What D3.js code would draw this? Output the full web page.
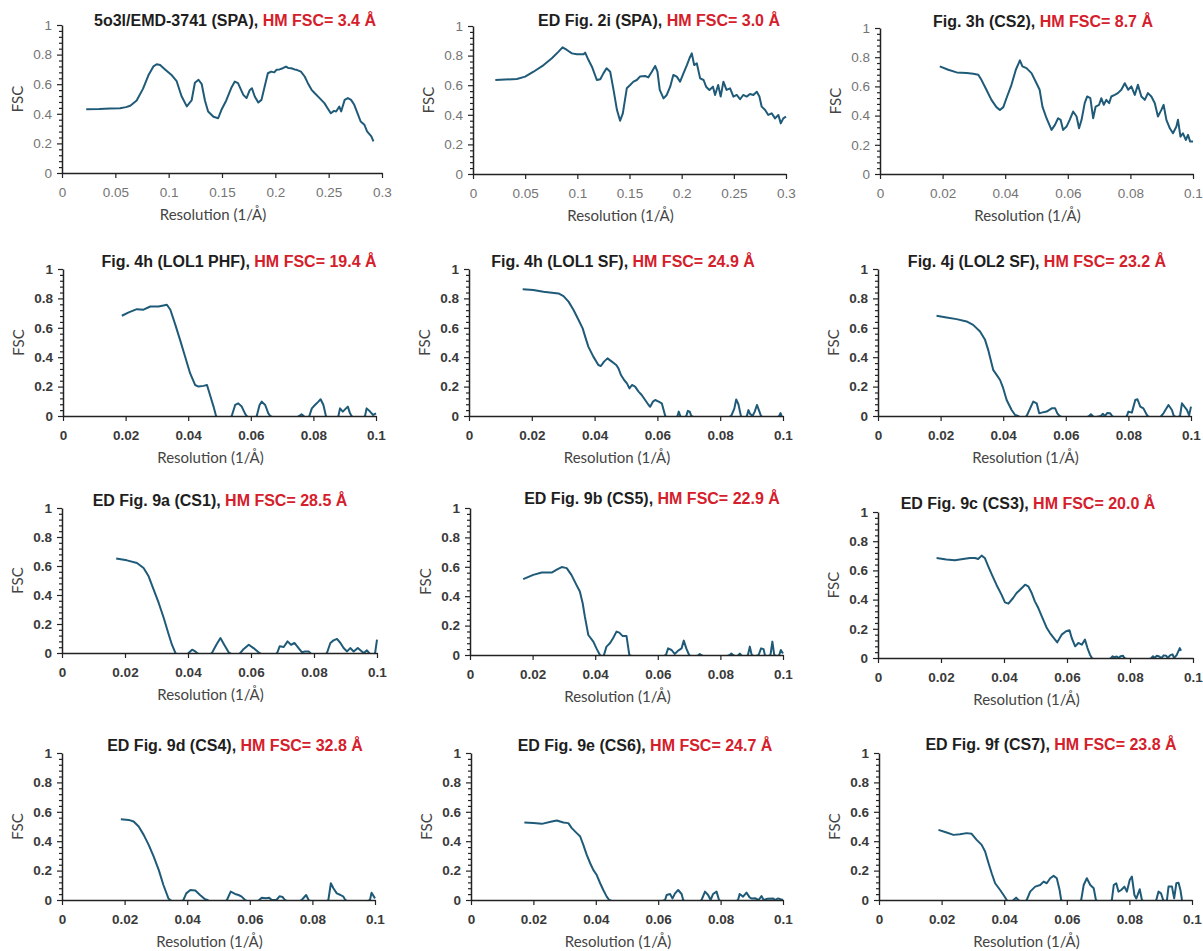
<!DOCTYPE html>
<html><head><meta charset="utf-8">
<script src="https://cdn.jsdelivr.net/npm/d3@7"></script>
<style>body{margin:0;background:#fff}</style>
</head><body>
<svg id="c" width="1203" height="951"></svg>
<script>
const figNames = ["5o3l/EMD-3741 (SPA), ","ED Fig. 2i (SPA), ","Fig. 3h (CS2), ",
  "Fig. 4h (LOL1 PHF), ","Fig. 4h (LOL1 SF), ","Fig. 4j (LOL2 SF), ",
  "ED Fig. 9a (CS1), ","ED Fig. 9b (CS5), ","ED Fig. 9c (CS3), ",
  "ED Fig. 9d (CS4), ","ED Fig. 9e (CS6), ","ED Fig. 9f (CS7), "];
const hmLabels = ["HM FSC= 3.4 Å","HM FSC= 3.0 Å","HM FSC= 8.7 Å",
  "HM FSC= 19.4 Å","HM FSC= 24.9 Å","HM FSC= 23.2 Å",
  "HM FSC= 28.5 Å","HM FSC= 22.9 Å","HM FSC= 20.0 Å",
  "HM FSC= 32.8 Å","HM FSC= 24.7 Å","HM FSC= 23.8 Å"];
const xMaxes = [0.3,0.3,0.1,0.1,0.1,0.1,0.1,0.1,0.1,0.1,0.1,0.1];
const xTicksWide = [0,0.05,0.1,0.15,0.2,0.25,0.3];
const xTicksNarrow = [0,0.02,0.04,0.06,0.08,0.1];
const yTicks = [0,0.2,0.4,0.6,0.8,1];
const xLabel = "Resolution (1/Å)";
const yLabel = "FSC";

const panel1 = [[0.0227,0.431],[0.035,0.432],[0.045,0.435],[0.0545,0.438],[0.060,0.445],[0.064,0.454],[0.070,0.49],[0.076,0.57],[0.081,0.66],[0.0857,0.72],[0.0888,0.735],[0.092,0.73],[0.0966,0.70],[0.103,0.66],[0.1075,0.62],[0.112,0.52],[0.117,0.45],[0.1215,0.49],[0.1246,0.61],[0.128,0.63],[0.131,0.60],[0.134,0.49],[0.137,0.416],[0.142,0.38],[0.1464,0.37],[0.1495,0.427],[0.154,0.49],[0.159,0.58],[0.162,0.618],[0.165,0.607],[0.170,0.528],[0.173,0.506],[0.176,0.56],[0.178,0.573],[0.1807,0.517],[0.184,0.476],[0.187,0.494],[0.190,0.584],[0.193,0.674],[0.196,0.685],[0.199,0.68],[0.201,0.697],[0.204,0.70],[0.207,0.708],[0.210,0.719],[0.212,0.71],[0.215,0.708],[0.218,0.70],[0.220,0.697],[0.224,0.685],[0.2275,0.652],[0.2305,0.607],[0.234,0.562],[0.237,0.539],[0.2415,0.506],[0.246,0.472],[0.249,0.438],[0.252,0.404],[0.255,0.42],[0.257,0.416],[0.260,0.449],[0.2617,0.416],[0.265,0.494],[0.268,0.506],[0.271,0.494],[0.274,0.461],[0.277,0.404],[0.280,0.348],[0.2835,0.326],[0.286,0.281],[0.290,0.247],[0.292,0.213]];
const panel2 = [[0.0214,0.635],[0.042,0.642],[0.050,0.658],[0.058,0.691],[0.0677,0.736],[0.0756,0.782],[0.082,0.827],[0.0858,0.856],[0.09,0.838],[0.0948,0.815],[0.0996,0.809],[0.106,0.809],[0.1075,0.82],[0.1107,0.77],[0.114,0.725],[0.1187,0.635],[0.122,0.64],[0.125,0.68],[0.128,0.714],[0.1315,0.691],[0.1347,0.568],[0.138,0.432],[0.141,0.36],[0.1436,0.41],[0.1474,0.579],[0.1506,0.601],[0.1538,0.624],[0.157,0.635],[0.160,0.658],[0.165,0.662],[0.168,0.653],[0.1714,0.691],[0.1746,0.73],[0.1768,0.691],[0.179,0.568],[0.1826,0.511],[0.1857,0.534],[0.189,0.59],[0.192,0.669],[0.1953,0.658],[0.1985,0.624],[0.2017,0.680],[0.205,0.736],[0.2075,0.782],[0.2097,0.815],[0.212,0.736],[0.2145,0.748],[0.2177,0.646],[0.221,0.635],[0.2234,0.59],[0.2266,0.568],[0.23,0.59],[0.232,0.534],[0.235,0.601],[0.2374,0.523],[0.24,0.624],[0.243,0.568],[0.2464,0.579],[0.2496,0.523],[0.2528,0.534],[0.256,0.505],[0.259,0.534],[0.2623,0.523],[0.2655,0.541],[0.2687,0.534],[0.272,0.556],[0.2745,0.523],[0.2767,0.455],[0.28,0.432],[0.283,0.399],[0.2863,0.41],[0.2895,0.376],[0.2927,0.399],[0.295,0.342],[0.2974,0.376],[0.3,0.387]];
const panel3 = [[0.0191,0.737],[0.0218,0.714],[0.0245,0.696],[0.0277,0.691],[0.0298,0.686],[0.0314,0.68],[0.0324,0.645],[0.034,0.577],[0.0356,0.508],[0.0372,0.458],[0.0383,0.439],[0.0394,0.458],[0.0404,0.519],[0.042,0.611],[0.0434,0.714],[0.0447,0.778],[0.0455,0.737],[0.0468,0.725],[0.0484,0.691],[0.05,0.622],[0.051,0.577],[0.0519,0.462],[0.0532,0.382],[0.0548,0.302],[0.0559,0.336],[0.0569,0.382],[0.0577,0.371],[0.0585,0.302],[0.0596,0.325],[0.0606,0.371],[0.0617,0.428],[0.0628,0.394],[0.0636,0.313],[0.0644,0.371],[0.0654,0.485],[0.0662,0.531],[0.0672,0.519],[0.0681,0.382],[0.0689,0.462],[0.07,0.474],[0.0707,0.519],[0.0715,0.474],[0.0723,0.508],[0.0732,0.485],[0.0739,0.531],[0.075,0.542],[0.076,0.554],[0.0771,0.577],[0.0782,0.622],[0.0793,0.577],[0.0803,0.6],[0.0814,0.542],[0.0824,0.611],[0.0835,0.531],[0.0846,0.508],[0.0856,0.554],[0.0867,0.531],[0.0878,0.485],[0.0888,0.394],[0.0899,0.439],[0.0906,0.474],[0.0915,0.371],[0.0926,0.313],[0.0936,0.279],[0.0947,0.325],[0.0952,0.371],[0.096,0.256],[0.0968,0.279],[0.0977,0.233],[0.0984,0.268],[0.0991,0.222],[0.1,0.222]];
const panel4 = [[0.0188,0.682],[0.021,0.705],[0.0236,0.727],[0.0257,0.723],[0.0279,0.745],[0.0305,0.745],[0.0321,0.752],[0.0332,0.757],[0.0343,0.723],[0.0359,0.62],[0.0374,0.518],[0.039,0.405],[0.0406,0.291],[0.0422,0.211],[0.0433,0.2],[0.0449,0.205],[0.046,0.211],[0.0468,0.155],[0.0481,0.064],[0.0489,0],[0.0515,-0.06],[0.0539,0],[0.055,0.075],[0.056,0.086],[0.0571,0.064],[0.0582,0.014],[0.0587,0],[0.0603,-0.04],[0.0619,0],[0.0628,0.075],[0.0635,0.098],[0.0646,0.075],[0.0656,0.018],[0.0662,0],[0.071,-0.05],[0.0755,0],[0.0762,0.012],[0.0769,0],[0.0778,-0.03],[0.0787,0],[0.0795,0.052],[0.0805,0.075],[0.0816,0.098],[0.0823,0.114],[0.0832,0.075],[0.084,0],[0.086,-0.05],[0.088,0],[0.0885,0.052],[0.0894,0.03],[0.0901,0.045],[0.091,0.064],[0.0917,0.018],[0.0922,0],[0.0945,-0.04],[0.0965,0],[0.097,0.052],[0.0981,0.03],[0.0991,0.007],[0.1,0.018]];
const panel5 = [[0.0171,0.862],[0.0205,0.857],[0.0237,0.846],[0.0264,0.839],[0.0285,0.834],[0.0301,0.816],[0.0317,0.778],[0.0333,0.721],[0.0349,0.653],[0.0362,0.596],[0.037,0.54],[0.038,0.472],[0.0396,0.404],[0.0412,0.347],[0.042,0.34],[0.043,0.37],[0.0441,0.392],[0.0455,0.37],[0.0469,0.347],[0.0476,0.324],[0.0484,0.279],[0.0494,0.245],[0.0503,0.222],[0.0511,0.188],[0.0519,0.211],[0.0529,0.2],[0.054,0.166],[0.055,0.143],[0.0561,0.109],[0.0572,0.075],[0.0577,0.063],[0.0586,0.098],[0.0593,0.109],[0.0604,0.098],[0.0614,0.086],[0.0625,0],[0.0645,-0.04],[0.0664,0],[0.0668,0.03],[0.0673,0],[0.068,-0.02],[0.0692,0],[0.0697,0.035],[0.0703,0.03],[0.0708,0],[0.077,-0.06],[0.0835,0],[0.0845,0.05],[0.0851,0.113],[0.0858,0.08],[0.0866,0],[0.0875,-0.02],[0.0885,0],[0.089,0.04],[0.0895,0.015],[0.0903,0],[0.091,0.03],[0.0917,0.075],[0.0925,0.03],[0.093,0],[0.096,-0.04],[0.0988,0],[0.0992,0.02],[0.0996,0]];
const panel6 = [[0.0187,0.682],[0.0219,0.67],[0.0251,0.659],[0.0283,0.643],[0.0304,0.62],[0.0326,0.575],[0.0342,0.518],[0.0352,0.45],[0.036,0.382],[0.0368,0.314],[0.0379,0.28],[0.039,0.245],[0.04,0.189],[0.0411,0.109],[0.0427,0.041],[0.0438,0.007],[0.0448,0],[0.046,-0.02],[0.0475,0],[0.0486,0.052],[0.0496,0.098],[0.0507,0.086],[0.0515,0.018],[0.0523,0.023],[0.0539,0.03],[0.0555,0.052],[0.0566,0.052],[0.0573,0.018],[0.058,0],[0.063,-0.05],[0.0675,0],[0.068,0.012],[0.0686,0],[0.069,-0.01],[0.0712,0],[0.0718,0.015],[0.0725,0],[0.0732,0.02],[0.0742,0.018],[0.0748,0],[0.0775,-0.04],[0.0795,0],[0.08,0.03],[0.0811,0.023],[0.0822,0.109],[0.0829,0.114],[0.0838,0.064],[0.0848,0.052],[0.0859,0.007],[0.0862,0],[0.0885,-0.04],[0.0905,0],[0.0912,0.018],[0.0928,0.075],[0.0939,0.041],[0.0945,0],[0.0955,-0.01],[0.0965,0],[0.0971,0.086],[0.0987,0.041],[0.0994,0.005],[0.1,0.064]];
const panel7 = [[0.0172,0.651],[0.0206,0.639],[0.0238,0.621],[0.0259,0.586],[0.0275,0.529],[0.0291,0.437],[0.0307,0.345],[0.0323,0.241],[0.0339,0.126],[0.0349,0.057],[0.036,0],[0.038,-0.04],[0.0402,0],[0.0413,0.023],[0.0423,0.011],[0.0429,0],[0.045,-0.04],[0.0476,0],[0.049,0.057],[0.0503,0.103],[0.0515,0.057],[0.0529,0.005],[0.0533,0],[0.055,-0.03],[0.0566,0],[0.0577,0.028],[0.0593,0.057],[0.0608,0.034],[0.0624,0.005],[0.0628,0],[0.0655,-0.05],[0.0683,0],[0.0691,0.046],[0.0704,0.041],[0.0716,0.08],[0.0727,0.057],[0.0738,0.069],[0.0751,0.034],[0.0762,0.005],[0.0772,0.011],[0.0783,0.011],[0.0788,0],[0.081,-0.05],[0.0841,0],[0.0852,0.069],[0.0862,0.087],[0.0873,0.097],[0.0884,0.069],[0.0894,0.034],[0.0905,0.011],[0.0915,0.034],[0.0926,0.011],[0.0939,0.034],[0.0952,0.011],[0.0958,0],[0.0968,0.018],[0.0975,0],[0.0985,-0.02],[0.0994,0],[0.1,0.092]];
const panel8 = [[0.017,0.516],[0.0202,0.545],[0.0229,0.561],[0.0261,0.561],[0.0277,0.58],[0.0293,0.598],[0.0309,0.591],[0.0324,0.545],[0.034,0.477],[0.0351,0.432],[0.036,0.352],[0.0367,0.261],[0.0378,0.136],[0.0394,0.091],[0.0404,0.045],[0.0415,0],[0.0422,-0.01],[0.0428,0],[0.0436,0.057],[0.0447,0.08],[0.0457,0.114],[0.0468,0.159],[0.0477,0.152],[0.0487,0.13],[0.05,0.13],[0.0509,0],[0.057,-0.06],[0.0626,0],[0.0633,0.045],[0.0644,0.034],[0.0654,0.007],[0.0665,0.03],[0.0676,0.045],[0.0683,0.098],[0.0691,0.045],[0.07,0],[0.0715,-0.02],[0.073,0],[0.0734,0.006],[0.0738,0],[0.078,-0.04],[0.083,0],[0.0835,0.01],[0.084,0],[0.085,-0.01],[0.0858,0],[0.0862,0.01],[0.0866,0],[0.0875,-0.02],[0.0888,0],[0.0894,0.057],[0.09,0],[0.091,-0.01],[0.0922,0],[0.093,0.045],[0.0938,0.04],[0.0942,0],[0.095,-0.01],[0.096,0],[0.0966,0.091],[0.0972,0],[0.0982,-0.01],[0.0988,0],[0.0993,0.034],[0.1,0.01]];
const panel9 = [[0.0186,0.685],[0.0217,0.674],[0.0244,0.669],[0.027,0.678],[0.0292,0.685],[0.0308,0.685],[0.0318,0.678],[0.0329,0.701],[0.0339,0.685],[0.035,0.628],[0.0364,0.559],[0.0376,0.502],[0.0392,0.434],[0.0403,0.381],[0.0414,0.372],[0.0429,0.411],[0.044,0.445],[0.0451,0.468],[0.0467,0.502],[0.0477,0.491],[0.0488,0.445],[0.0498,0.388],[0.0509,0.342],[0.052,0.285],[0.0536,0.205],[0.0546,0.171],[0.0562,0.126],[0.0569,0.107],[0.0583,0.16],[0.0597,0.183],[0.0608,0.19],[0.0615,0.137],[0.0626,0.08],[0.0636,0.103],[0.0647,0.091],[0.0657,0.126],[0.0665,0.068],[0.0673,0.023],[0.0679,0],[0.071,-0.05],[0.074,0],[0.0745,0.012],[0.075,0.005],[0.0758,0.01],[0.0765,0],[0.077,0.012],[0.0778,0.015],[0.0782,0],[0.083,-0.05],[0.0868,0],[0.0873,0.012],[0.0878,0],[0.0885,0.015],[0.0893,0.01],[0.09,0],[0.0907,0.018],[0.0915,0.015],[0.092,0],[0.0928,0.02],[0.0935,0.025],[0.094,0],[0.0948,0.02],[0.0958,0.068],[0.0962,0.05]];
const panel10 = [[0.0188,0.55],[0.0213,0.545],[0.0229,0.534],[0.0245,0.5],[0.0261,0.443],[0.0277,0.375],[0.0293,0.295],[0.0309,0.205],[0.0324,0.102],[0.034,0.011],[0.0346,0],[0.0365,-0.03],[0.0388,0],[0.0397,0.045],[0.041,0.068],[0.0426,0.064],[0.0441,0.034],[0.0457,0.005],[0.0465,0],[0.0495,-0.05],[0.0527,0],[0.0539,0.057],[0.0553,0.041],[0.0564,0.034],[0.0574,0.023],[0.0585,0],[0.061,-0.03],[0.063,0],[0.0638,0.015],[0.0652,0.012],[0.0662,0.015],[0.067,0],[0.0685,0],[0.0695,0.025],[0.0705,0.02],[0.0712,0],[0.074,-0.03],[0.0766,0],[0.078,0.034],[0.0788,0],[0.082,-0.04],[0.0851,0],[0.0859,0.114],[0.0867,0.08],[0.0878,0.045],[0.089,0.034],[0.0899,0.023],[0.0905,0],[0.094,-0.04],[0.0984,0],[0.0989,0.05],[0.1,0.011]];
const panel11 = [[0.0171,0.527],[0.02,0.523],[0.0227,0.518],[0.0259,0.534],[0.0275,0.541],[0.0296,0.527],[0.0312,0.523],[0.0323,0.489],[0.0339,0.455],[0.035,0.432],[0.036,0.375],[0.0371,0.307],[0.0382,0.25],[0.0392,0.205],[0.0403,0.17],[0.0414,0.114],[0.0424,0.068],[0.0435,0.023],[0.0443,0],[0.053,-0.07],[0.0622,0],[0.0627,0.034],[0.0638,0.041],[0.0646,0.011],[0.0654,0.045],[0.0664,0.068],[0.0675,0.041],[0.068,0],[0.071,-0.04],[0.0739,0],[0.075,0.057],[0.076,0.034],[0.0768,0],[0.0776,0.041],[0.0787,0.057],[0.0795,0],[0.0825,-0.04],[0.0856,0],[0.0861,0.041],[0.0872,0.023],[0.0883,0.05],[0.0893,0.018],[0.09,0.01],[0.091,0.012],[0.0922,0],[0.0931,0.027],[0.0938,0],[0.095,0.008],[0.0968,0.011],[0.0975,0],[0.0984,0.011],[0.0992,0.005],[0.1,0]];
const panel12 = [[0.019,0.477],[0.0216,0.459],[0.0238,0.443],[0.0259,0.448],[0.028,0.455],[0.0296,0.45],[0.0312,0.409],[0.0328,0.375],[0.0339,0.33],[0.035,0.25],[0.036,0.182],[0.0371,0.114],[0.0387,0.068],[0.04,0.027],[0.0408,0],[0.042,-0.02],[0.043,0],[0.0438,0.016],[0.0445,0],[0.046,-0.02],[0.0472,0],[0.0483,0.057],[0.0499,0.091],[0.0515,0.102],[0.0526,0.125],[0.0536,0.114],[0.0547,0.148],[0.0558,0.164],[0.0568,0.148],[0.0577,0.068],[0.0582,0],[0.0615,-0.05],[0.0646,0],[0.0654,0.102],[0.0664,0.148],[0.0675,0.102],[0.0686,0.08],[0.0693,0],[0.072,-0.04],[0.0744,0],[0.075,0.102],[0.0758,0.114],[0.0765,0.057],[0.0774,0.068],[0.0784,0.091],[0.0792,0.057],[0.0801,0.136],[0.0808,0.159],[0.0816,0.034],[0.0822,0.01],[0.0833,0.073],[0.084,0],[0.0865,-0.04],[0.0886,0],[0.0893,0.057],[0.0901,0.045],[0.0908,0],[0.0914,-0.01],[0.092,0],[0.0925,0.091],[0.0936,0.091],[0.0943,0.011],[0.095,0.114],[0.0957,0.118],[0.0963,0.068],[0.0968,0]];

const panels = [panel1,panel2,panel3,panel4,panel5,panel6,panel7,panel8,panel9,panel10,panel11,panel12];

// layout (pixel boxes of each plot area, title anchor)
const layout = [
  {l:62,r:382,t:25,b:173,tx:235,ty:26},
  {l:473,r:786,t:26,b:174,tx:659,ty:26},
  {l:880,r:1193,t:28,b:174,tx:1043,ty:27},
  {l:63,r:376,t:269,b:416,tx:239,ty:267},
  {l:469,r:783,t:269,b:416,tx:623,ty:267},
  {l:878,r:1191,t:269,b:416,tx:1037,ty:267},
  {l:62,r:377,t:508,b:653,tx:220,ty:506},
  {l:470,r:783,t:508,b:655,tx:652,ty:504},
  {l:878,r:1193,t:512,b:658,tx:1028,ty:509},
  {l:62,r:375,t:753,b:900,tx:235,ty:751},
  {l:471,r:783,t:753,b:900,tx:645,ty:751},
  {l:879,r:1192,t:753,b:900,tx:1051,ty:750}
];

const lineColor = "#1f5b78";
const fmt = d => d === 0 ? "0" : String(+d.toFixed(2));
const svg = d3.select("#c");
const minorY = d3.range(0, 51).map(i => i * 0.04).filter(v => v <= 1.0001 && Math.abs(v*5 - Math.round(v*5)) > 1e-6);

layout.forEach((L, i) => {
  const x = d3.scaleLinear().domain([0, xMaxes[i]]).range([L.l, L.r]);
  const y = d3.scaleLinear().domain([0, 1]).range([L.b, L.t]);
  const row = Math.floor(i / 3);
  const g = svg.append("g");
  const cid = "clip" + i;
  svg.append("clipPath").attr("id", cid).append("rect")
    .attr("x", L.l).attr("y", L.t - 30).attr("width", L.r - L.l + 6).attr("height", L.b - L.t + 30);

  g.append("path").datum(panels[i])
    .attr("clip-path", `url(#${cid})`)
    .attr("d", d3.line().x(d => x(d[0])).y(d => y(d[1])))
    .attr("fill", "none").attr("stroke", lineColor)
    .attr("stroke-width", 2).attr("stroke-linejoin", "round");

  const tickFill = row === 0 ? "#747474" : "#3a3a3a";
  const tickWeight = row === 0 ? "normal" : "bold";

  g.append("g").attr("transform", `translate(0,${L.b})`)
    .call(d3.axisBottom(x).tickValues(xMaxes[i] > 0.2 ? xTicksWide : xTicksNarrow)
      .tickSize(5).tickSizeOuter(0).tickPadding(9).tickFormat(fmt));
  g.append("g").attr("transform", `translate(${L.l},0)`)
    .call(d3.axisLeft(y).tickValues(yTicks).tickSize(5).tickSizeOuter(0).tickPadding(5).tickFormat(fmt));
  g.append("g").attr("transform", `translate(${L.l},0)`)
    .call(d3.axisLeft(y).tickValues(minorY).tickSize(3).tickFormat(""))
    .call(s => s.select(".domain").remove());

  g.selectAll(".domain").attr("stroke", "#222").attr("stroke-width", 1.5);
  g.selectAll(".tick line").attr("stroke", "#222").attr("stroke-width", 1.2);
  g.selectAll(".tick text").attr("fill", tickFill)
    .style("font-family", "'Liberation Sans', Arial, sans-serif")
    .style("font-size", "13.5px").style("font-weight", tickWeight);

  // title
  const t = g.append("text").attr("x", L.tx).attr("y", L.ty).attr("text-anchor", "middle")
    .style("font-family", "'Liberation Sans', Arial, sans-serif")
    .style("font-size", "16px").style("font-weight", "bold");
  t.append("tspan").attr("fill", "#1e1e1e").text(figNames[i]);
  t.append("tspan").attr("fill", "#d5202b").text(hmLabels[i]);

  // axis titles
  g.append("text").attr("x", (L.l + L.r) / 2 - 9).attr("y", L.b + 47)
    .attr("text-anchor", "middle").attr("fill", "#444")
    .style("font-family", "Lato, 'Open Sans', sans-serif").style("font-size", "15px")
    .text(xLabel);
  g.append("text")
    .attr("transform", `translate(${L.l - 39},${(L.t + L.b) / 2}) rotate(-90)`)
    .attr("text-anchor", "middle").attr("fill", "#444")
    .style("font-family", "Lato, 'Open Sans', sans-serif").style("font-size", "15px")
    .text(yLabel);
});
</script>
</body></html>
